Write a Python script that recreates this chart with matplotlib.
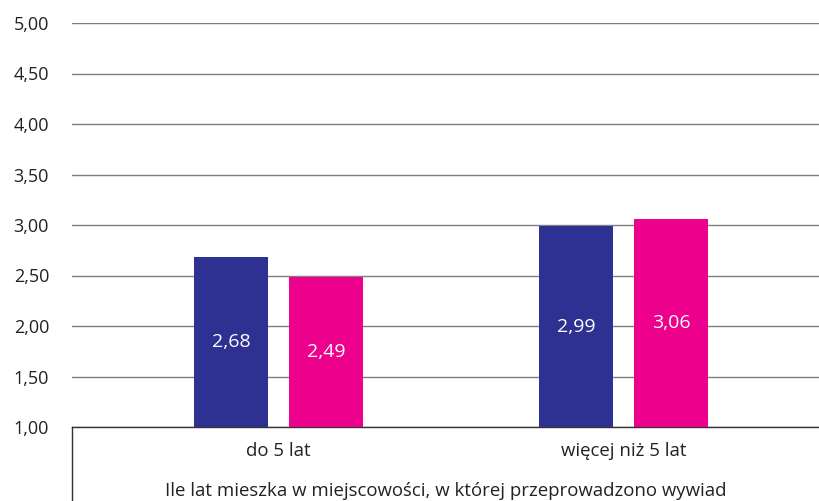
import numpy as np
import matplotlib.pyplot as plt

categories = ['do 5 lat', 'więcej niż 5 lat']
series_a = [2.68, 2.99]
series_b = [2.49, 3.06]
yticks = [1.0, 1.5, 2.0, 2.5, 3.0, 3.5, 4.0, 4.5, 5.0]
xlabel = 'Ile lat mieszka w miejscowości, w której przeprowadzono wywiad'

blue = '#2e3192'
pink = '#ec008c'

plt.rcParams['font.family'] = ['Open Sans', 'DejaVu Sans']

fig = plt.figure(figsize=(8.2, 5.01), dpi=100)
ax = fig.add_axes([72 / 820, 74 / 501, 748 / 820, 404 / 501])

x = np.arange(len(categories))
w = 0.2145
off = 0.1377
bars_a = ax.bar(x - off, np.array(series_a) - 1, w, bottom=1, color=blue, zorder=3)
bars_b = ax.bar(x + off, np.array(series_b) - 1, w, bottom=1, color=pink, zorder=3)

for bars, vals in [(bars_a, series_a), (bars_b, series_b)]:
    for b, v in zip(bars, vals):
        ax.text(b.get_x() + b.get_width() / 2, (1 + v) / 2,
                f'{v:.2f}'.replace('.', ','), ha='center', va='center',
                color='white', fontsize=14, zorder=4)

ax.set_ylim(1, 5)
ax.set_xlim(-0.599, 1.570)
ax.set_yticks(yticks)
ax.set_yticklabels([f'{t:.2f}'.replace('.', ',') for t in yticks], fontsize=13, color='#222222')
ax.tick_params(axis='y', length=0, pad=16.5)
ax.set_xticks([])
ax.yaxis.grid(True, color='#7f7f7f', linewidth=1, zorder=0)

for s in ['top', 'right', 'left']:
    ax.spines[s].set_visible(False)
ax.spines['bottom'].set_color('#333333')
ax.spines['bottom'].set_linewidth(1)

# left border of the category area below the axis
ax.plot([0, 0], [0, -0.2], transform=ax.transAxes, color='#333333', lw=1, clip_on=False)

for xi, c in zip(x, categories):
    ax.text(xi, 1 - 24 / 101, c, ha='center', va='center', fontsize=13.4, color='#222222')

ax.text(0.5, -64 / 404, xlabel, transform=ax.transAxes, ha='center', va='center',
        fontsize=13.4, color='#222222')

fig.savefig('out.png', dpi=100)
